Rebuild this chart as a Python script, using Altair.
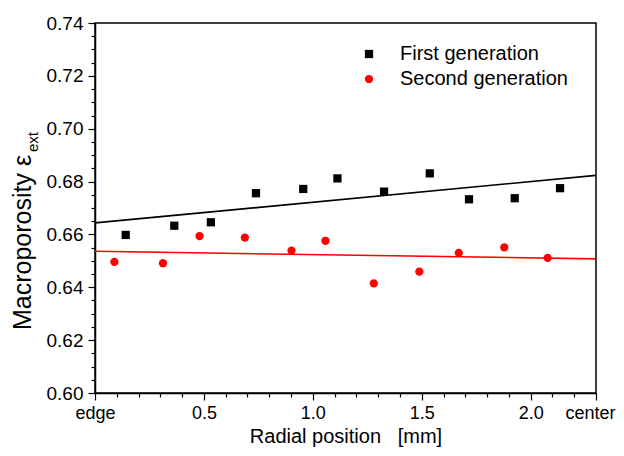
import altair as alt
import pandas as pd

# ---- data ----
first_x = [0.141, 0.364, 0.532, 0.739, 0.956, 1.113, 1.327, 1.537, 1.717, 1.927, 2.135]
first_y = [0.6598, 0.6633, 0.6646, 0.6756, 0.6772, 0.6812, 0.6762, 0.6831, 0.6733, 0.6737, 0.6775]
second_x = [0.089, 0.312, 0.480, 0.688, 0.902, 1.058, 1.280, 1.489, 1.670, 1.879, 2.078]
second_y = [0.6496, 0.6491, 0.6594, 0.6588, 0.6539, 0.6576, 0.6415, 0.6459, 0.6530, 0.6551, 0.6511]
series_names = ["First generation", "Second generation"]
series_colors = ["black", "red"]
series_shapes = ["square", "circle"]

x_major = [0, 0.5, 1.0, 1.5, 2.0, 2.3]
x_minor = [0.1, 0.2, 0.3, 0.4, 0.6, 0.7, 0.8, 0.9, 1.1, 1.2, 1.3, 1.4,
           1.6, 1.7, 1.8, 1.9, 2.1, 2.2]
y_major = [0.60, 0.62, 0.64, 0.66, 0.68, 0.70, 0.72, 0.74]
y_minor = [round(0.60 + 0.005 * i, 3) for i in range(29) if i % 4 != 0]

x_title = "Radial position\u00a0\u00a0\u00a0[mm]"
y_title_main = "Macroporosity \u03b5"
y_title_sub = "ext"

df = pd.DataFrame({
    "x": first_x + second_x,
    "y": first_y + second_y,
    "series": [series_names[0]] * len(first_x) + [series_names[1]] * len(second_x),
})

FONT = "Liberation Sans"
xscale = alt.Scale(domain=[0, 2.3], nice=False, zero=False)
yscale = alt.Scale(domain=[0.60, 0.74], nice=False, zero=False)
cscale = alt.Scale(domain=series_names, range=series_colors)
sscale = alt.Scale(domain=series_names, range=series_shapes)

legend = alt.Legend(title=None, orient="none", legendX=264, legendY=21,
                    labelFontSize=20, labelFont=FONT, labelOffset=21, labelColor="black",
                    labelLimit=400, symbolSize=68, rowPadding=5, padding=0,
                    symbolStrokeWidth=0)

points = alt.Chart(df).mark_point(filled=True, size=68, opacity=1).encode(
    x=alt.X("x:Q", scale=xscale,
            axis=alt.Axis(orient="bottom", values=x_major, title=x_title,
                          labelExpr="datum.value == 0 ? 'edge' : (datum.value > 2.25 ? 'center' : format(datum.value, '.1f'))",
                          labelOffset={"condition": {"test": "datum.value > 2.25", "value": -6}, "value": 0},
                          labelFontSize=18,
                          tickSize=7, labelPadding=4, titlePadding=4, labelFlush=False,
                          labelOverlap=False)),
    y=alt.Y("y:Q", scale=yscale,
            axis=alt.Axis(orient="left", values=y_major, format=".2f", title=None,
                          labelFontSize=19,
                          tickSize=7, labelPadding=5, labelFlush=False, labelOverlap=False)),
    color=alt.Color("series:N", scale=cscale, legend=legend),
    shape=alt.Shape("series:N", scale=sscale, legend=legend),
)

line_layers = []
for i, name in enumerate(series_names):
    ax_x = alt.Axis(orient="bottom", values=x_minor, labels=False, domain=False,
                    tickSize=4, title=None)
    ax_y = alt.Axis(orient="left", values=y_minor, labels=False, domain=False,
                    tickSize=4, title=None)
    line_layers.append(
        alt.Chart(df).transform_filter(alt.datum.series == name).transform_regression(
            "x", "y", extent=[0, 2.3]
        ).mark_line(strokeWidth=1.6, color=series_colors[i]).encode(
            x=alt.X("x:Q", scale=xscale, axis=ax_x if i == 0 else None),
            y=alt.Y("y:Q", scale=yscale, axis=ax_y if i == 0 else None),
        )
    )

dummy = pd.DataFrame({"k": [0]})
ytitle = alt.Chart(dummy).mark_text(angle=270, align="left", baseline="middle",
                                    fontSize=25, font=FONT, color="black").encode(
    x=alt.value(-72), y=alt.value(307), text=alt.value(y_title_main))
ysub = alt.Chart(dummy).mark_text(angle=270, align="left", baseline="middle",
                                  fontSize=15, font=FONT, color="black").encode(
    x=alt.value(-62), y=alt.value(129), text=alt.value(y_title_sub))

chart = alt.layer(points, *line_layers, ytitle, ysub).resolve_axis(
    x="independent", y="independent"
).properties(
    width=501, height=370,
    autosize=alt.AutoSizeParams(type="none"),
    padding={"left": 87, "top": 15, "right": 20, "bottom": 55},
).configure_view(
    stroke="black", strokeWidth=1.5
).configure_axis(
    domainColor="black", domainWidth=1.5, tickColor="black", tickWidth=1.2,
    labelFont=FONT, labelFontSize=18, labelColor="black",
    titleFont=FONT, titleFontSize=20, titleColor="black", titleFontWeight="normal",
    grid=False,
)

chart.save("out.html", embed_options={"renderer": "svg", "actions": False})
